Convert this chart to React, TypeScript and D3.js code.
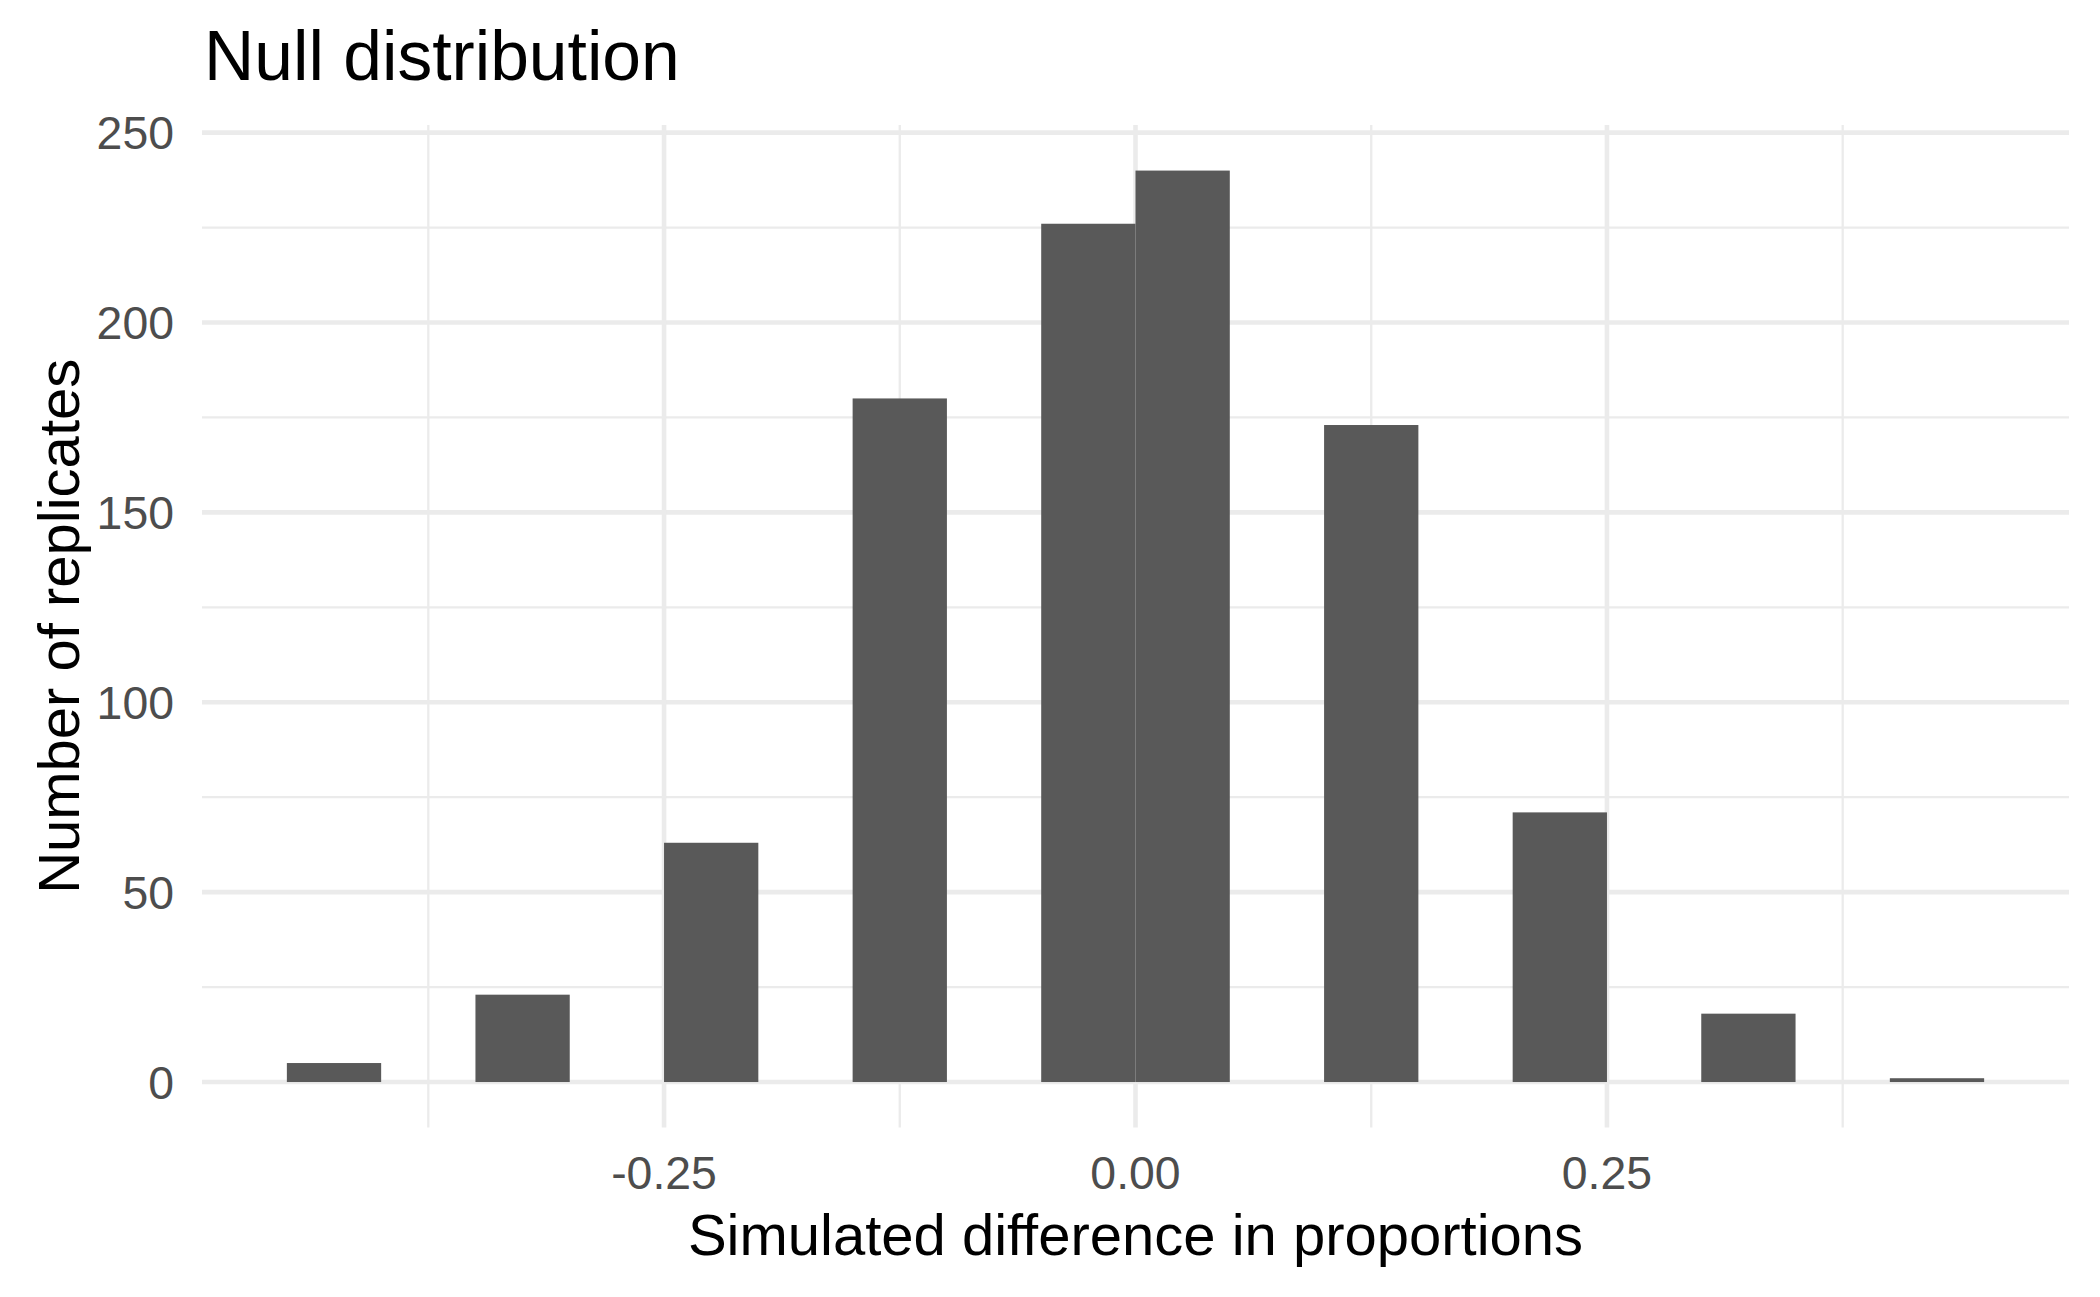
import * as d3 from 'd3';

// Histogram bins: left edge of each bin, width 0.05
const binStarts = [-0.45, -0.35, -0.25, -0.15, -0.05, 0, 0.1, 0.2, 0.3, 0.4];
const binWidth = 0.05;
const counts = [5, 23, 63, 180, 226, 240, 173, 71, 18, 1];

const xMajor = [-0.25, 0, 0.25];
const xMinor = [-0.375, -0.125, 0.125, 0.375];
const yMajor = [0, 50, 100, 150, 200, 250];
const yMinor = [25, 75, 125, 175, 225];

const W = 2100;
const H = 1297;
const FONT = '"Liberation Sans", Arial, Helvetica, sans-serif';

export default function App() {
  const panel = { left: 202, right: 2069, top: 125, bottom: 1127.6 };

  const x = d3.scaleLinear().domain([-0.495, 0.495]).range([panel.left, panel.right]);
  const y = d3.scaleLinear().domain([-12, 252]).range([panel.bottom, panel.top]);

  const grid = '#EBEBEB';

  return (
    <div style={{ position: 'absolute', left: 0, top: 0 }}>
      <svg width={W} height={H} style={{ display: 'block', background: '#fff' }}>
        {/* minor grid */}
        {yMinor.map((v) => (
          <line key={'ym' + v} x1={panel.left} x2={panel.right} y1={y(v)} y2={y(v)} stroke={grid} strokeWidth={2.3} />
        ))}
        {xMinor.map((v) => (
          <line key={'xm' + v} x1={x(v)} x2={x(v)} y1={panel.top} y2={panel.bottom} stroke={grid} strokeWidth={2.3} />
        ))}
        {/* major grid */}
        {yMajor.map((v) => (
          <line key={'yM' + v} x1={panel.left} x2={panel.right} y1={y(v)} y2={y(v)} stroke={grid} strokeWidth={4.6} />
        ))}
        {xMajor.map((v) => (
          <line key={'xM' + v} x1={x(v)} x2={x(v)} y1={panel.top} y2={panel.bottom} stroke={grid} strokeWidth={4.6} />
        ))}

        {/* bars */}
        {binStarts.map((s, i) => (
          <rect
            key={'b' + i}
            x={x(s)}
            y={y(counts[i])}
            width={x(s + binWidth) - x(s)}
            height={y(0) - y(counts[i])}
            fill="#595959"
          />
        ))}

        {/* y tick labels */}
        {yMajor.map((v) => (
          <text
            key={'yl' + v}
            x={174}
            y={y(v)}
            dy="0.36em"
            textAnchor="end"
            fontFamily={FONT}
            fontSize={46.4}
            fill="#4D4D4D"
          >
            {v}
          </text>
        ))}

        {/* x tick labels */}
        {xMajor.map((v) => (
          <text
            key={'xl' + v}
            x={x(v)}
            y={1189}
            textAnchor="middle"
            fontFamily={FONT}
            fontSize={46.4}
            fill="#4D4D4D"
          >
            {d3.format('.2f')(v).replace('−', '-')}
          </text>
        ))}

        {/* axis titles */}
        <text
          x={(panel.left + panel.right) / 2}
          y={1255}
          textAnchor="middle"
          fontFamily={FONT}
          fontSize={58}
          fill="#000"
        >
          Simulated difference in proportions
        </text>
        <text
          transform={`translate(79,${(panel.top + panel.bottom) / 2}) rotate(-90)`}
          textAnchor="middle"
          fontFamily={FONT}
          fontSize={58}
          fill="#000"
        >
          Number of replicates
        </text>

        {/* title */}
        <text x={204} y={80} fontFamily={FONT} fontSize={69.6} fill="#000">
          Null distribution
        </text>
      </svg>
    </div>
  );
}
